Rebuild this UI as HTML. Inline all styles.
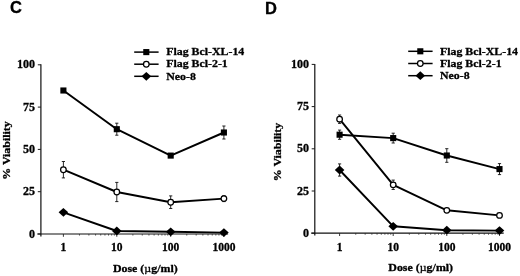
<!DOCTYPE html>
<html><head><meta charset="utf-8"><title>Figure</title>
<style>
html,body{margin:0;padding:0;background:#fff;}
body{width:520px;height:276px;overflow:hidden;}
svg{display:block;will-change:transform;}
text{font-family:"Liberation Serif","DejaVu Serif",serif;font-weight:bold;fill:#000;stroke:#000;stroke-width:0.3px;stroke-linejoin:round;}
.pl{font-family:"Liberation Sans","DejaVu Sans",sans-serif;font-weight:bold;font-size:16.5px;}
.tk{font-size:12px;}
.lg{font-size:11.3px;}
.ax{font-size:11.3px;}
</style></head><body>
<svg width="520" height="276" viewBox="0 0 520 276">
<rect width="520" height="276" fill="#fff"/>

<text class="pl" x="9.9" y="13.35">C</text>
<line x1="40.9" y1="64.3" x2="40.9" y2="236.4" stroke="#111" stroke-width="1.2"/>
<line x1="37.8" y1="234.00" x2="40.9" y2="234.00" stroke="#1a1a1a" stroke-width="1"/>
<text class="tk" x="35.0" y="237.60" text-anchor="end">0</text>
<line x1="37.8" y1="191.70" x2="40.9" y2="191.70" stroke="#1a1a1a" stroke-width="1"/>
<text class="tk" x="35.0" y="195.30" text-anchor="end">25</text>
<line x1="37.8" y1="149.40" x2="40.9" y2="149.40" stroke="#1a1a1a" stroke-width="1"/>
<text class="tk" x="35.0" y="153.00" text-anchor="end">50</text>
<line x1="37.8" y1="107.10" x2="40.9" y2="107.10" stroke="#1a1a1a" stroke-width="1"/>
<text class="tk" x="35.0" y="110.70" text-anchor="end">75</text>
<line x1="37.8" y1="64.80" x2="40.9" y2="64.80" stroke="#1a1a1a" stroke-width="1"/>
<text class="tk" x="35.0" y="68.40" text-anchor="end">100</text>
<line x1="37.3" y1="234.0" x2="228.1" y2="234.0" stroke="#111" stroke-width="1.2"/>
<line x1="63.40" y1="234.0" x2="63.40" y2="236.8" stroke="#222" stroke-width="0.9"/>
<line x1="79.48" y1="234.0" x2="79.48" y2="235.6" stroke="#222" stroke-width="0.7"/>
<line x1="88.88" y1="234.0" x2="88.88" y2="235.6" stroke="#222" stroke-width="0.7"/>
<line x1="95.55" y1="234.0" x2="95.55" y2="235.6" stroke="#222" stroke-width="0.7"/>
<line x1="100.72" y1="234.0" x2="100.72" y2="235.6" stroke="#222" stroke-width="0.7"/>
<line x1="104.95" y1="234.0" x2="104.95" y2="235.6" stroke="#222" stroke-width="0.7"/>
<line x1="108.53" y1="234.0" x2="108.53" y2="235.6" stroke="#222" stroke-width="0.7"/>
<line x1="111.63" y1="234.0" x2="111.63" y2="235.6" stroke="#222" stroke-width="0.7"/>
<line x1="114.36" y1="234.0" x2="114.36" y2="235.6" stroke="#222" stroke-width="0.7"/>
<line x1="116.80" y1="234.0" x2="116.80" y2="236.8" stroke="#222" stroke-width="0.9"/>
<line x1="132.88" y1="234.0" x2="132.88" y2="235.6" stroke="#222" stroke-width="0.7"/>
<line x1="142.28" y1="234.0" x2="142.28" y2="235.6" stroke="#222" stroke-width="0.7"/>
<line x1="148.95" y1="234.0" x2="148.95" y2="235.6" stroke="#222" stroke-width="0.7"/>
<line x1="154.12" y1="234.0" x2="154.12" y2="235.6" stroke="#222" stroke-width="0.7"/>
<line x1="158.35" y1="234.0" x2="158.35" y2="235.6" stroke="#222" stroke-width="0.7"/>
<line x1="161.93" y1="234.0" x2="161.93" y2="235.6" stroke="#222" stroke-width="0.7"/>
<line x1="165.03" y1="234.0" x2="165.03" y2="235.6" stroke="#222" stroke-width="0.7"/>
<line x1="167.76" y1="234.0" x2="167.76" y2="235.6" stroke="#222" stroke-width="0.7"/>
<line x1="170.70" y1="234.0" x2="170.70" y2="236.8" stroke="#222" stroke-width="0.9"/>
<line x1="186.78" y1="234.0" x2="186.78" y2="235.6" stroke="#222" stroke-width="0.7"/>
<line x1="196.18" y1="234.0" x2="196.18" y2="235.6" stroke="#222" stroke-width="0.7"/>
<line x1="202.85" y1="234.0" x2="202.85" y2="235.6" stroke="#222" stroke-width="0.7"/>
<line x1="208.02" y1="234.0" x2="208.02" y2="235.6" stroke="#222" stroke-width="0.7"/>
<line x1="212.25" y1="234.0" x2="212.25" y2="235.6" stroke="#222" stroke-width="0.7"/>
<line x1="215.83" y1="234.0" x2="215.83" y2="235.6" stroke="#222" stroke-width="0.7"/>
<line x1="218.93" y1="234.0" x2="218.93" y2="235.6" stroke="#222" stroke-width="0.7"/>
<line x1="221.66" y1="234.0" x2="221.66" y2="235.6" stroke="#222" stroke-width="0.7"/>
<line x1="223.90" y1="234.0" x2="223.90" y2="236.7" stroke="#222" stroke-width="0.9"/>
<text class="tk" style="font-size:11.5px" x="63.4" y="251.1" text-anchor="middle">1</text>
<text class="tk" style="font-size:11.5px" x="116.8" y="251.1" text-anchor="middle">10</text>
<text class="tk" style="font-size:11.5px" x="170.7" y="251.1" text-anchor="middle">100</text>
<text class="tk" style="font-size:11.5px" x="223.9" y="251.1" text-anchor="middle">1000</text>
<text class="ax" transform="translate(145.3,271.6) scale(1.055,1)" text-anchor="middle">Dose (<tspan font-weight="normal">µ</tspan>g/ml)</text>
<text class="ax" transform="translate(10,150.5) rotate(-90) scale(1.055,1)" text-anchor="middle">% Viability</text>
<path d="M63.40 88.50V92.50M61.80 88.50h3.2M61.80 92.50h3.2" stroke="#111" stroke-width="0.9" fill="none"/>
<path d="M116.80 123.20V135.20M115.20 123.20h3.2M115.20 135.20h3.2" stroke="#111" stroke-width="0.9" fill="none"/>
<path d="M170.70 154.10V157.10M169.10 154.10h3.2M169.10 157.10h3.2" stroke="#111" stroke-width="0.9" fill="none"/>
<path d="M223.90 126.00V139.00M222.30 126.00h3.2M222.30 139.00h3.2" stroke="#111" stroke-width="0.9" fill="none"/>
<polyline fill="none" stroke="#000" stroke-width="1.95" stroke-linejoin="round" points="63.40,90.50 116.80,129.20 170.70,155.60 223.90,132.50"/>
<rect x="60.35" y="87.45" width="6.10" height="6.10" fill="#000"/>
<rect x="113.75" y="126.15" width="6.10" height="6.10" fill="#000"/>
<rect x="167.65" y="152.55" width="6.10" height="6.10" fill="#000"/>
<rect x="220.85" y="129.45" width="6.10" height="6.10" fill="#000"/>
<path d="M63.40 161.50V177.90M61.80 161.50h3.2M61.80 177.90h3.2" stroke="#111" stroke-width="0.9" fill="none"/>
<path d="M116.80 182.40V201.60M115.20 182.40h3.2M115.20 201.60h3.2" stroke="#111" stroke-width="0.9" fill="none"/>
<path d="M170.70 195.90V208.50M169.10 195.90h3.2M169.10 208.50h3.2" stroke="#111" stroke-width="0.9" fill="none"/>
<path d="M223.90 195.60V201.60M222.30 195.60h3.2M222.30 201.60h3.2" stroke="#111" stroke-width="0.9" fill="none"/>
<polyline fill="none" stroke="#000" stroke-width="1.95" stroke-linejoin="round" points="63.40,169.70 116.80,192.00 170.70,202.20 223.90,198.60"/>
<circle cx="63.40" cy="169.70" r="2.80" fill="#fff" stroke="#000" stroke-width="1.25"/>
<circle cx="116.80" cy="192.00" r="2.80" fill="#fff" stroke="#000" stroke-width="1.25"/>
<circle cx="170.70" cy="202.20" r="2.80" fill="#fff" stroke="#000" stroke-width="1.25"/>
<circle cx="223.90" cy="198.60" r="2.80" fill="#fff" stroke="#000" stroke-width="1.25"/>
<polyline fill="none" stroke="#000" stroke-width="1.95" stroke-linejoin="round" points="63.40,212.30 116.80,231.00 170.70,231.80 223.90,232.60"/>
<path d="M58.60 212.30L63.40 207.90L68.20 212.30L63.40 216.70Z" fill="#000"/>
<path d="M112.00 231.00L116.80 226.60L121.60 231.00L116.80 235.40Z" fill="#000"/>
<path d="M165.90 231.80L170.70 227.40L175.50 231.80L170.70 236.20Z" fill="#000"/>
<path d="M219.10 232.60L223.90 228.20L228.70 232.60L223.90 237.00Z" fill="#000"/>
<line x1="134.2" y1="52.1" x2="158.6" y2="52.1" stroke="#000" stroke-width="1.5"/>
<rect x="143.25" y="49.05" width="6.10" height="6.10" fill="#000"/>
<text class="lg" transform="translate(166.2,55.30) scale(1.05,1)">Flag Bcl-XL-14</text>
<line x1="134.2" y1="64.2" x2="158.6" y2="64.2" stroke="#000" stroke-width="1.5"/>
<circle cx="146.30" cy="64.20" r="2.80" fill="#fff" stroke="#000" stroke-width="1.25"/>
<text class="lg" transform="translate(166.2,67.40) scale(1.05,1)">Flag Bcl-2-1</text>
<line x1="134.2" y1="76.3" x2="158.6" y2="76.3" stroke="#000" stroke-width="1.5"/>
<path d="M141.50 76.30L146.30 71.90L151.10 76.30L146.30 80.70Z" fill="#000"/>
<text class="lg" transform="translate(166.2,79.50) scale(1.05,1)">Neo-8</text>
<text class="pl" x="264.9" y="13.8">D</text>
<line x1="314.8" y1="63.900000000000006" x2="314.8" y2="235.6" stroke="#111" stroke-width="1.2"/>
<line x1="311.7" y1="233.20" x2="314.8" y2="233.20" stroke="#1a1a1a" stroke-width="1"/>
<text class="tk" x="308.90000000000003" y="236.80" text-anchor="end">0</text>
<line x1="311.7" y1="191.00" x2="314.8" y2="191.00" stroke="#1a1a1a" stroke-width="1"/>
<text class="tk" x="308.90000000000003" y="194.60" text-anchor="end">25</text>
<line x1="311.7" y1="148.80" x2="314.8" y2="148.80" stroke="#1a1a1a" stroke-width="1"/>
<text class="tk" x="308.90000000000003" y="152.40" text-anchor="end">50</text>
<line x1="311.7" y1="106.60" x2="314.8" y2="106.60" stroke="#1a1a1a" stroke-width="1"/>
<text class="tk" x="308.90000000000003" y="110.20" text-anchor="end">75</text>
<line x1="311.7" y1="64.40" x2="314.8" y2="64.40" stroke="#1a1a1a" stroke-width="1"/>
<text class="tk" x="308.90000000000003" y="68.00" text-anchor="end">100</text>
<line x1="311.2" y1="233.2" x2="503.7" y2="233.2" stroke="#111" stroke-width="1.2"/>
<line x1="339.60" y1="233.2" x2="339.60" y2="236.0" stroke="#222" stroke-width="0.9"/>
<line x1="355.74" y1="233.2" x2="355.74" y2="234.79999999999998" stroke="#222" stroke-width="0.7"/>
<line x1="365.17" y1="233.2" x2="365.17" y2="234.79999999999998" stroke="#222" stroke-width="0.7"/>
<line x1="371.87" y1="233.2" x2="371.87" y2="234.79999999999998" stroke="#222" stroke-width="0.7"/>
<line x1="377.06" y1="233.2" x2="377.06" y2="234.79999999999998" stroke="#222" stroke-width="0.7"/>
<line x1="381.31" y1="233.2" x2="381.31" y2="234.79999999999998" stroke="#222" stroke-width="0.7"/>
<line x1="384.90" y1="233.2" x2="384.90" y2="234.79999999999998" stroke="#222" stroke-width="0.7"/>
<line x1="388.01" y1="233.2" x2="388.01" y2="234.79999999999998" stroke="#222" stroke-width="0.7"/>
<line x1="390.75" y1="233.2" x2="390.75" y2="234.79999999999998" stroke="#222" stroke-width="0.7"/>
<line x1="393.20" y1="233.2" x2="393.20" y2="236.0" stroke="#222" stroke-width="0.9"/>
<line x1="409.34" y1="233.2" x2="409.34" y2="234.79999999999998" stroke="#222" stroke-width="0.7"/>
<line x1="418.77" y1="233.2" x2="418.77" y2="234.79999999999998" stroke="#222" stroke-width="0.7"/>
<line x1="425.47" y1="233.2" x2="425.47" y2="234.79999999999998" stroke="#222" stroke-width="0.7"/>
<line x1="430.66" y1="233.2" x2="430.66" y2="234.79999999999998" stroke="#222" stroke-width="0.7"/>
<line x1="434.91" y1="233.2" x2="434.91" y2="234.79999999999998" stroke="#222" stroke-width="0.7"/>
<line x1="438.50" y1="233.2" x2="438.50" y2="234.79999999999998" stroke="#222" stroke-width="0.7"/>
<line x1="441.61" y1="233.2" x2="441.61" y2="234.79999999999998" stroke="#222" stroke-width="0.7"/>
<line x1="444.35" y1="233.2" x2="444.35" y2="234.79999999999998" stroke="#222" stroke-width="0.7"/>
<line x1="446.80" y1="233.2" x2="446.80" y2="236.0" stroke="#222" stroke-width="0.9"/>
<line x1="462.94" y1="233.2" x2="462.94" y2="234.79999999999998" stroke="#222" stroke-width="0.7"/>
<line x1="472.37" y1="233.2" x2="472.37" y2="234.79999999999998" stroke="#222" stroke-width="0.7"/>
<line x1="479.07" y1="233.2" x2="479.07" y2="234.79999999999998" stroke="#222" stroke-width="0.7"/>
<line x1="484.26" y1="233.2" x2="484.26" y2="234.79999999999998" stroke="#222" stroke-width="0.7"/>
<line x1="488.51" y1="233.2" x2="488.51" y2="234.79999999999998" stroke="#222" stroke-width="0.7"/>
<line x1="492.10" y1="233.2" x2="492.10" y2="234.79999999999998" stroke="#222" stroke-width="0.7"/>
<line x1="495.21" y1="233.2" x2="495.21" y2="234.79999999999998" stroke="#222" stroke-width="0.7"/>
<line x1="497.95" y1="233.2" x2="497.95" y2="234.79999999999998" stroke="#222" stroke-width="0.7"/>
<line x1="499.50" y1="233.2" x2="499.50" y2="235.89999999999998" stroke="#222" stroke-width="0.9"/>
<text class="tk" style="font-size:11.5px" x="339.6" y="250.9" text-anchor="middle">1</text>
<text class="tk" style="font-size:11.5px" x="393.2" y="250.9" text-anchor="middle">10</text>
<text class="tk" style="font-size:11.5px" x="446.8" y="250.9" text-anchor="middle">100</text>
<text class="tk" style="font-size:11.5px" x="499.5" y="250.9" text-anchor="middle">1000</text>
<text class="ax" transform="translate(420.7,271.3) scale(1.055,1)" text-anchor="middle">Dose (<tspan font-weight="normal">µ</tspan>g/ml)</text>
<text class="ax" transform="translate(280.9,152.0) rotate(-90) scale(1.055,1)" text-anchor="middle">% Viability</text>
<path d="M339.60 130.10V139.30M338.00 130.10h3.2M338.00 139.30h3.2" stroke="#111" stroke-width="0.9" fill="none"/>
<path d="M393.20 133.20V143.00M391.60 133.20h3.2M391.60 143.00h3.2" stroke="#111" stroke-width="0.9" fill="none"/>
<path d="M446.80 148.70V162.30M445.20 148.70h3.2M445.20 162.30h3.2" stroke="#111" stroke-width="0.9" fill="none"/>
<path d="M499.50 163.60V174.60M497.90 163.60h3.2M497.90 174.60h3.2" stroke="#111" stroke-width="0.9" fill="none"/>
<polyline fill="none" stroke="#000" stroke-width="1.95" stroke-linejoin="round" points="339.60,134.70 393.20,138.10 446.80,155.50 499.50,169.10"/>
<rect x="336.55" y="131.65" width="6.10" height="6.10" fill="#000"/>
<rect x="390.15" y="135.05" width="6.10" height="6.10" fill="#000"/>
<rect x="443.75" y="152.45" width="6.10" height="6.10" fill="#000"/>
<rect x="496.45" y="166.05" width="6.10" height="6.10" fill="#000"/>
<path d="M339.60 115.00V123.40M338.00 115.00h3.2M338.00 123.40h3.2" stroke="#111" stroke-width="0.9" fill="none"/>
<path d="M393.20 180.10V189.50M391.60 180.10h3.2M391.60 189.50h3.2" stroke="#111" stroke-width="0.9" fill="none"/>
<polyline fill="none" stroke="#000" stroke-width="1.95" stroke-linejoin="round" points="339.60,119.20 393.20,184.80 446.80,210.30 499.50,215.40"/>
<circle cx="339.60" cy="119.20" r="2.80" fill="#fff" stroke="#000" stroke-width="1.25"/>
<circle cx="393.20" cy="184.80" r="2.80" fill="#fff" stroke="#000" stroke-width="1.25"/>
<circle cx="446.80" cy="210.30" r="2.80" fill="#fff" stroke="#000" stroke-width="1.25"/>
<circle cx="499.50" cy="215.40" r="2.80" fill="#fff" stroke="#000" stroke-width="1.25"/>
<path d="M339.60 163.90V176.10M338.00 163.90h3.2M338.00 176.10h3.2" stroke="#111" stroke-width="0.9" fill="none"/>
<polyline fill="none" stroke="#000" stroke-width="1.95" stroke-linejoin="round" points="339.60,170.00 393.20,226.30 446.80,230.20 499.50,230.60"/>
<path d="M334.80 170.00L339.60 165.60L344.40 170.00L339.60 174.40Z" fill="#000"/>
<path d="M388.40 226.30L393.20 221.90L398.00 226.30L393.20 230.70Z" fill="#000"/>
<path d="M442.00 230.20L446.80 225.80L451.60 230.20L446.80 234.60Z" fill="#000"/>
<path d="M494.70 230.60L499.50 226.20L504.30 230.60L499.50 235.00Z" fill="#000"/>
<line x1="408.2" y1="51.3" x2="432.59999999999997" y2="51.3" stroke="#000" stroke-width="1.5"/>
<rect x="417.25" y="48.25" width="6.10" height="6.10" fill="#000"/>
<text class="lg" transform="translate(440.0,54.50) scale(1.05,1)">Flag Bcl-XL-14</text>
<line x1="408.2" y1="63.5" x2="432.59999999999997" y2="63.5" stroke="#000" stroke-width="1.5"/>
<circle cx="420.30" cy="63.50" r="2.80" fill="#fff" stroke="#000" stroke-width="1.25"/>
<text class="lg" transform="translate(440.0,66.70) scale(1.05,1)">Flag Bcl-2-1</text>
<line x1="408.2" y1="75.7" x2="432.59999999999997" y2="75.7" stroke="#000" stroke-width="1.5"/>
<path d="M415.50 75.70L420.30 71.30L425.10 75.70L420.30 80.10Z" fill="#000"/>
<text class="lg" transform="translate(440.0,78.90) scale(1.05,1)">Neo-8</text>
</svg></body></html>
